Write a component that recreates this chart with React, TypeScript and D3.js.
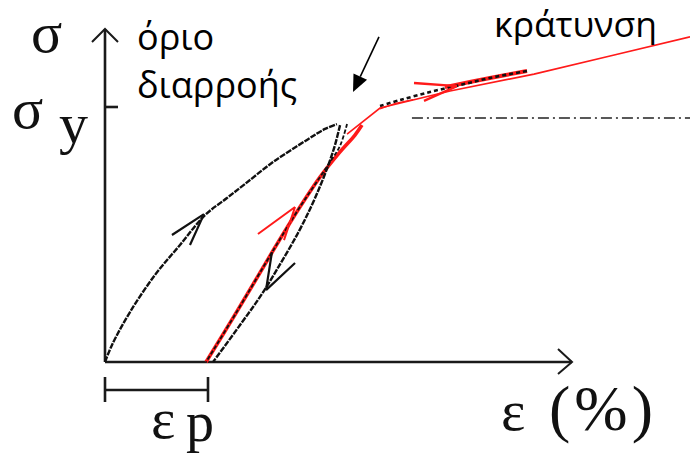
import React from 'react';
import * as d3 from 'd3';

type Pt = [number, number];

// Strain is measured in units of the permanent strain εp, stress in units of σy.
const loadingPath: Pt[] = [
  [0, 0], [0.068, 0.067], [0.243, 0.196], [0.485, 0.341], [0.728, 0.459],
  [0.971, 0.576], [1.184, 0.643], [1.359, 0.698], [1.631, 0.784],
  [1.961, 0.871], [2.136, 0.914], [2.252, 0.933],
];
const unloadingPath: Pt[] = [
  [2.282, 0.929], [2.233, 0.851], [2.175, 0.780], [2.097, 0.698], [2.000, 0.608],
  [1.874, 0.506], [1.718, 0.396], [1.524, 0.267], [1.311, 0.145], [1.049, 0],
];
const reloadPath: Pt[] = [
  [2.35, 0.933], [2.281, 0.847], [2.184, 0.784], [2.087, 0.725],
  [1.874, 0.596], [1.641, 0.443], [1.272, 0.192], [0.981, 0],
];
const reloadRed: Pt[] = [
  [0.981, 0], [1.272, 0.192], [1.641, 0.443], [1.874, 0.596],
  [2.087, 0.725], [2.282, 0.824], [2.427, 0.89], [2.495, 0.929],
];
const hardeningRed: Pt[] = [
  [2.35, 0.894], [2.67, 0.996], [3.35, 1.063], [4.165, 1.129], [4.903, 1.2], [5.68, 1.275],
];
const kneeSliver: Pt[] = [[2.67, 0.992], [2.82, 1.014], [2.99, 1.029]];
const hardeningDots: Pt[] = [
  [2.67, 1.004], [2.864, 1.027], [3.155, 1.059], [3.447, 1.086], [3.738, 1.114], [4.097, 1.141],
];
const hardeningBand: Pt[] = [[3.3, 1.078], [3.738, 1.114], [4.097, 1.141]];

// Direction arrows drawn along the curves: tip plus two barb ends.
const loadArrow = { tip: [0.961, 0.58] as Pt, barbs: [[0.65, 0.498], [0.825, 0.459]] as Pt[] };
const unloadArrow = { tip: [1.563, 0.282] as Pt, barbs: [[1.621, 0.431], [1.845, 0.388]] as Pt[] };
const reloadArrow = { tip: [1.845, 0.608] as Pt, barbs: [[1.485, 0.502], [1.738, 0.478]] as Pt[] };
const hardenArrow = { tip: [3.417, 1.082] as Pt, barbs: [[3.0, 1.094], [3.097, 1.024]] as Pt[] };

// Pointer to the yield point and the reference σy level
const yieldPointer: Pt[] = [[2.66, 1.275], [2.408, 1.059]];
const sigmaYRefLevel = 0.957;
const sigmaYRefSpan: [number, number] = [2.98, 5.7];
const strainAxisMax = 4.534;
const stressAxisMax = 1.306;
const plasticStrain = 1;
const yieldStress = 1;

const W = 690;
const H = 454;

export default function App() {
  const x = d3.scaleLinear().domain([0, 1]).range([105, 208]);
  const y = d3.scaleLinear().domain([0, 1]).range([362, 107]);
  const smooth = d3.line<Pt>().x(d => x(d[0])).y(d => y(d[1])).curve(d3.curveCatmullRom.alpha(0.5));
  const straight = d3.line<Pt>().x(d => x(d[0])).y(d => y(d[1]));

  const arrowPath = (a: { tip: Pt; barbs: Pt[] }) =>
    a.barbs.map(b => straight([b, a.tip])).join(' ');

  const x0 = x(0), y0 = y(0);
  const xEnd = x(strainAxisMax), yTop = y(stressAxisMax);

  // pointer arrow head
  const [p0, p1] = yieldPointer;
  const px0 = x(p0[0]), py0 = y(p0[1]), px1 = x(p1[0]), py1 = y(p1[1]);
  const len = Math.hypot(px1 - px0, py1 - py0);
  const ux = (px1 - px0) / len, uy = (py1 - py0) / len;
  const headL = 17, headW = 7.5;
  const bx = px1 - ux * headL, by = py1 - uy * headL;
  const head = `M${px1},${py1}L${bx - uy * headW},${by + ux * headW}L${bx + uy * headW},${by - ux * headW}Z`;

  const serif = '"Liberation Serif", "Times New Roman", serif';
  const sans = '"Open Sans", "Noto Sans", sans-serif';
  const blackCurve = { fill: 'none', stroke: '#111', strokeWidth: 2.4, strokeDasharray: '6 1.2' };

  return (
    <svg width={W} height={H} style={{ position: 'absolute', left: 0, top: 0, background: '#fff' }}>
      {/* axes */}
      <g stroke="#1a1a1a" strokeWidth={2.6} fill="none">
        <line x1={x0} y1={y0} x2={xEnd} y2={y0} />
        <line x1={x0} y1={y0} x2={x0} y2={yTop} />
        <path d={`M${xEnd - 14},${y0 - 13}L${xEnd},${y0}L${xEnd - 14},${y0 + 12}`} strokeWidth={2} />
        <path d={`M${x0 - 13},${yTop + 13}L${x0},${yTop}L${x0 + 13},${yTop + 13}`} strokeWidth={2} />
        <line x1={x0} y1={y(yieldStress)} x2={x0 + 13} y2={y(yieldStress)} />
        {/* εp span */}
        <line x1={x(0)} y1={390} x2={x(plasticStrain)} y2={390} />
        <line x1={x(0)} y1={377} x2={x(0)} y2={402} />
        <line x1={x(plasticStrain)} y1={377} x2={x(plasticStrain)} y2={402} />
      </g>

      {/* σy reference level */}
      <line x1={x(sigmaYRefSpan[0])} x2={x(sigmaYRefSpan[1])} y1={y(sigmaYRefLevel)} y2={y(sigmaYRefLevel)}
        stroke="#222" strokeWidth={1.6} strokeDasharray="11 4 2 4" />

      {/* red highlights under the black curves */}
      <path d={smooth(reloadRed) ?? ''} fill="none" stroke="#ff1a1a" strokeWidth={3.6} />
      <path d={smooth(hardeningBand) ?? ''} fill="none" stroke="#ff1a1a" strokeWidth={4} />

      {/* black curves */}
      <path d={smooth(loadingPath) ?? ''} {...blackCurve} />
      <path d={smooth(unloadingPath) ?? ''} {...blackCurve} />
      <path d={smooth(reloadPath) ?? ''} {...blackCurve} strokeWidth={1.8} strokeDasharray="4 2" />
      <path d={smooth(hardeningDots) ?? ''} {...blackCurve} strokeWidth={2.6} strokeDasharray="4 3" />

      {/* red hardening line */}
      <path d={straight(hardeningRed) ?? ''} fill="none" stroke="#ff1a1a" strokeWidth={1.6} />
      <path d={straight(kneeSliver) ?? ''} fill="none" stroke="#ff1a1a" strokeWidth={1.2} />

      {/* direction arrows */}
      <path d={arrowPath(loadArrow)} stroke="#111" strokeWidth={2.2} fill="none" />
      <path d={arrowPath(unloadArrow)} stroke="#111" strokeWidth={2.2} fill="none" />
      <path d={arrowPath(reloadArrow)} stroke="#ff1a1a" strokeWidth={2} fill="none" />
      <path d={arrowPath(hardenArrow)} stroke="#ff1a1a" strokeWidth={2.4} fill="none" />

      {/* pointer to the yield point */}
      <line x1={px0} y1={py0} x2={bx} y2={by} stroke="#000" strokeWidth={1.6} />
      <path d={head} fill="#000" />

      {/* serif symbols */}
      <g fontFamily={serif} fill="#111">
        <text x={31} y={52} fontSize={58}>σ</text>
        <text x={12} y={128} fontSize={58}>σ</text>
        <text x={59} y={143} fontSize={58}>y</text>
        <text x={151} y={438} fontSize={58}>ε</text>
        <text x={186} y={441} fontSize={56}>p</text>
        <text x={501} y={430} fontSize={58}>ε</text>
        <text x={549} y={430} fontSize={64} textLength={104} lengthAdjust="spacing">(%)</text>
      </g>

      {/* Greek annotations */}
      <g fontFamily={sans} fill="#000" fontSize={36}>
        <text x={137} y={50}>όριο</text>
        <text x={137} y={98}>διαρροής</text>
        <text x={494} y={37} fontSize={34} textLength={163} lengthAdjust="spacingAndGlyphs">κράτυνση</text>
      </g>
    </svg>
  );
}
